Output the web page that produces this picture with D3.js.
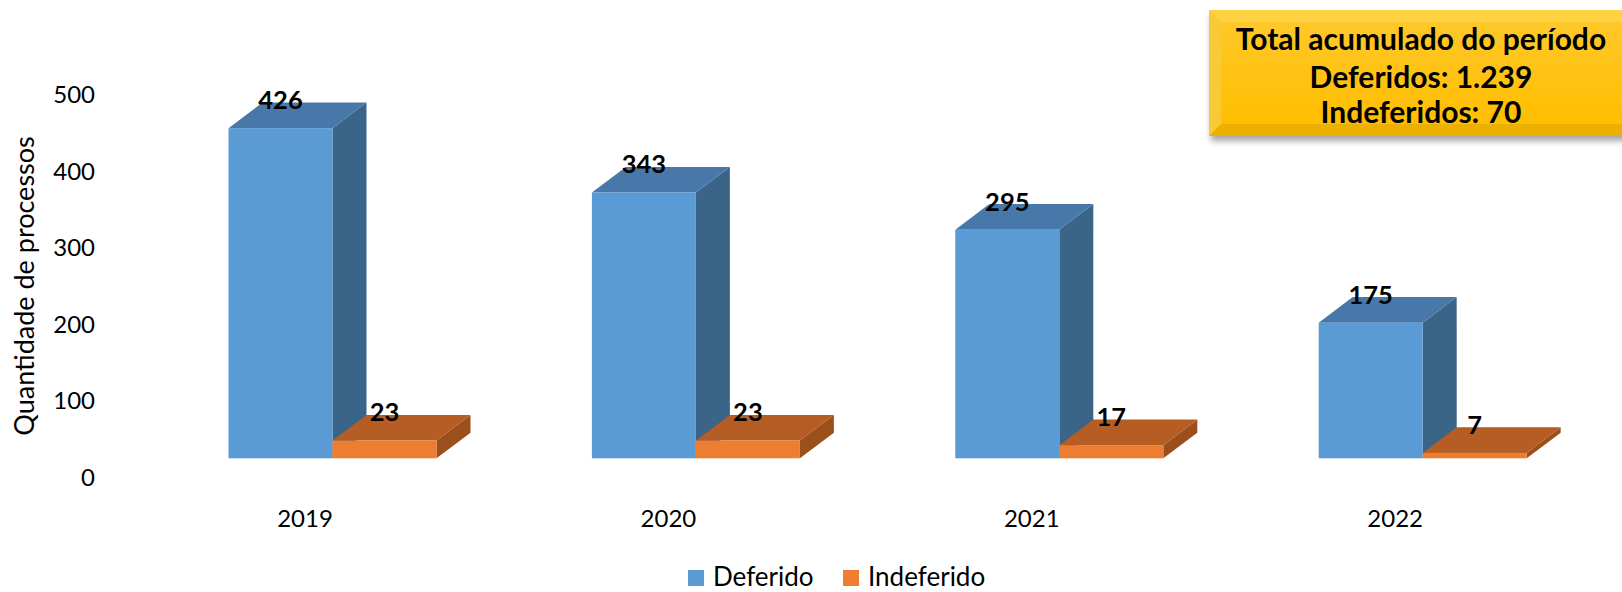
<!DOCTYPE html>
<html><head><meta charset="utf-8">
<script src="https://cdn.jsdelivr.net/npm/d3@7/dist/d3.min.js"></script>
<style>
html,body{margin:0;padding:0;background:#fff;}
svg{display:block;font-family:Lato,"Open Sans",sans-serif;}
</style></head>
<body>
<svg id="chart" width="1622" height="592"></svg>
<script>
const years = ["2019","2020","2021","2022"];
const seriesNames = ["Deferido","Indeferido"];
const deferido = [426,343,295,175];
const indeferido = [23,23,17,7];
const yTicks = [0,100,200,300,400,500];
const yTitle = "Quantidade de processos";
const boxLines = ["Total acumulado do período","Deferidos: 1.239","Indeferidos: 70"];

const svg = d3.select("#chart");
const defs = svg.append("defs");

// scales
const x = d3.scaleBand().domain(years).range([228.5, 228.5 + 4*363.4]).padding(0);
const xs = d3.scaleBand().domain(seriesNames).range([0, 208]).padding(0);
const y = d3.scaleLinear().domain([0,500]).range([458.3, 458.3 - 387.5]);
const yAxisScale = d3.scaleLinear().domain([0,500]).range([476.7, 94.3]);
const DX = 34, DY = -25.6;

const colors = {
  Deferido: {front:"#5B9BD5", top:"#4878A9", side:"#3A6488"},
  Indeferido: {front:"#ED7D31", top:"#B55D22", side:"#9B4F1B"}
};

// Y axis (tick labels only)
const yAxis = d3.axisLeft(yAxisScale).tickValues(yTicks).tickSize(0).tickPadding(0);
const gy = svg.append("g").attr("transform","translate(95,0)").call(yAxis);
gy.select(".domain").remove();
gy.selectAll("text").attr("font-size",24).attr("font-family","Lato").attr("fill","#000").attr("dy","0.35em").attr("x",0);

// Y title
svg.append("text").attr("transform","translate(34,286) rotate(-90)")
  .attr("text-anchor","middle").attr("font-size",27).attr("fill","#000").text(yTitle);

// X category labels
svg.append("g").selectAll("text").data(years).join("text")
  .attr("x", d => x(d) + 76.5).attr("y", 527).attr("text-anchor","middle")
  .attr("font-size",24).attr("fill","#000").text(d => d);

// bars
const data = years.map((yr,i) => ({year:yr, vals:[
  {s:"Deferido", v:deferido[i]},
  {s:"Indeferido", v:indeferido[i]}
]}));

const groups = svg.append("g").selectAll("g").data(data).join("g");
groups.each(function(d){
  const g = d3.select(this);
  d.vals.forEach(b => {
    const x0 = x(d.year) + xs(b.s), w = xs.bandwidth();
    const yt = y(b.v), yb = y(0);
    const c = colors[b.s];
    g.append("polygon").attr("points",[[x0+w,yt],[x0+w+DX,yt+DY],[x0+w+DX,yb+DY],[x0+w,yb]].map(p=>p.join(",")).join(" "))
      .attr("fill",c.side);
    g.append("polygon").attr("points",[[x0,yt],[x0+DX,yt+DY],[x0+w+DX,yt+DY],[x0+w,yt]].map(p=>p.join(",")).join(" "))
      .attr("fill",c.top);
    g.append("rect").attr("x",x0).attr("y",yt).attr("width",w).attr("height",yb-yt).attr("fill",c.front);
  });
});
// value labels
groups.each(function(d){
  const g = d3.select(this);
  d.vals.forEach(b => {
    g.append("text").attr("x", x(d.year)+xs(b.s)+xs.bandwidth()/2).attr("y", y(b.v)+DY+6.5)
      .attr("text-anchor","middle").attr("font-size",25.5).attr("font-weight","bold").attr("fill","#000")
      .text(b.v);
  });
});

// Legend
const legend = svg.append("g");
const legItems = [{s:"Deferido",x:688},{s:"Indeferido",x:843}];
legItems.forEach(it => {
  legend.append("rect").attr("x",it.x).attr("y",570).attr("width",16).attr("height",16).attr("fill",colors[it.s].front);
  legend.append("text").attr("x",it.x+25).attr("y",586).attr("font-size",26).attr("fill","#000").text(it.s);
});

// Summary box
const filt = defs.append("filter").attr("id","shadow").attr("x","-10%").attr("y","-10%").attr("width","130%").attr("height","140%");
filt.append("feDropShadow").attr("dx",2).attr("dy",5).attr("stdDeviation",3).attr("flood-color","#000").attr("flood-opacity",0.35);
const grad = defs.append("linearGradient").attr("id","gold").attr("x1",0).attr("y1",0).attr("x2",0).attr("y2",1);
grad.append("stop").attr("offset","0%").attr("stop-color","#FFC82A");
grad.append("stop").attr("offset","100%").attr("stop-color","#FFBE00");

const bx = 1209, by = 10, bw = 440, bh = 126, bv = 12;
const box = svg.append("g");
box.append("rect").attr("x",bx).attr("y",by).attr("width",bw).attr("height",bh).attr("fill","#FFC000").attr("filter","url(#shadow)");
box.append("polygon").attr("points",`${bx},${by} ${bx+bw},${by} ${bx+bw-bv},${by+bv} ${bx+bv},${by+bv}`).attr("fill","#FFD243");
box.append("polygon").attr("points",`${bx},${by} ${bx+bv},${by+bv} ${bx+bv},${by+bh-bv} ${bx},${by+bh}`).attr("fill","#F8CA36");
box.append("polygon").attr("points",`${bx},${by+bh} ${bx+bv},${by+bh-bv} ${bx+bw-bv},${by+bh-bv} ${bx+bw},${by+bh}`).attr("fill","#EBB000");
box.append("rect").attr("x",bx+bv).attr("y",by+bv).attr("width",bw-2*bv).attr("height",bh-2*bv).attr("fill","url(#gold)");
const boxY = [50, 88, 123];
box.selectAll("text.b").data(boxLines).join("text").attr("class","b")
  .attr("x",1421).attr("y",(d,i)=>boxY[i]).attr("text-anchor","middle")
  .attr("font-size",30).attr("font-weight","bold").attr("fill","#000").text(d=>d);
</script>
</body></html>
